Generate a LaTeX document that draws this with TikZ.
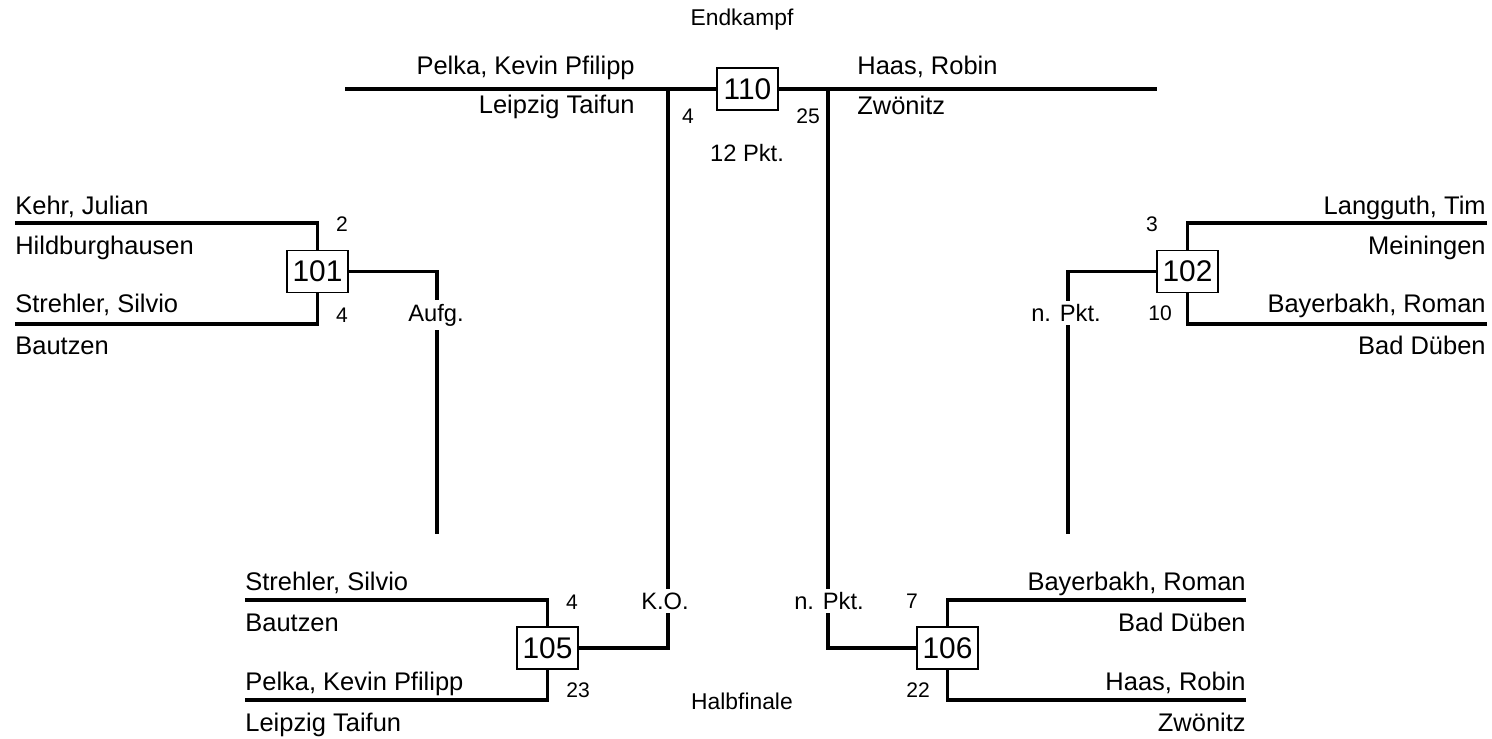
\documentclass[tikz,border=0pt]{standalone}
\usepackage{fontspec}
\setmainfont{Liberation Sans}
\usepackage{tikz}
\usetikzlibrary{positioning}
\usetikzlibrary{calc}

\tikzset{
  match/.style={draw, line width=0.6pt, fill=white, minimum width=1.22cm, minimum height=0.84cm, inner sep=0pt, font=\fontsize{17}{17}\selectfont},
  bline/.style={line width=1.9pt},
  player/.style={inner sep=0pt, font=\fontsize{14.5}{16}\selectfont},
  score/.style={inner sep=0pt, font=\fontsize{12}{12}\selectfont},
  result/.style={fill=white, inner sep=2pt, font=\fontsize{13.5}{14}\selectfont},
  stage/.style={inner sep=0pt, font=\fontsize{13}{14}\selectfont}
}

\begin{document}
\begin{tikzpicture}[x=0.02cm, y=-0.02cm]
\useasboundingbox (0,0) rectangle (1492,739);
\node[match] (m101) at (317.5,271.5) {101};
\node[match] (m102) at (1187.5,271.5) {102};
\node[match] (m105) at (547.5,648) {105};
\node[match] (m106) at (947.5,648) {106};
\node[match] (m110) at (747.5,89) {110};
%%%%%%%%%%%%%%%%%%%%%%%%%%%%%%%%%%%%%
\coordinate (a101) at (15,223);
\coordinate (b101) at (15,324);
\coordinate (w101) at (437,534);
\coordinate (a102) at (1487,223);
\coordinate (b102) at (1487,324);
\coordinate (w102) at (1068,534);
\coordinate (a105) at (245,600);
\coordinate (b105) at (245,700);
\coordinate (a106) at (1246,600);
\coordinate (b106) at (1246,700);
\coordinate (fL) at (345,89);
\coordinate (fR) at (1157,89);
\coordinate (kL) at (668,89);
\coordinate (kR) at (828,89);
%%%%%%%%%%%%%%%%%%%%%%%%%%%%%%%%%%%%%
\draw[bline] (a101) -| (m101.north);
\draw[bline] (b101) -| (m101.south);
\draw[bline] (m101.east) -| (w101);
\draw[bline] (a102) -| (m102.north);
\draw[bline] (b102) -| (m102.south);
\draw[bline] (m102.west) -| (w102);
\draw[bline] (a105) -| (m105.north);
\draw[bline] (b105) -| (m105.south);
\draw[bline] (m105.east) -| (kL);
\draw[bline] (a106) -| (m106.north);
\draw[bline] (b106) -| (m106.south);
\draw[bline] (m106.west) -| (kR);
\draw[bline] (fL) -- (m110.west);
\draw[bline] (m110.east) -- (fR);
%%%%%%%%%%%%%%%%%%%%%%%%%%%%%%%%%%%%%
\node[result] (r101) at (436,315) {Aufg.};
\node[result] (r102) at (1066,313) {n. Pkt.};
\node[result] (r105) at (665,601) {K.O.};
\node[result] (r106) at (829,601) {n. Pkt.};
\node[result, fill=none] (r110) at (747,153) {12 Pkt.};
%%%%%%%%%%%%%%
\node[score] (s101a) at (342,224) {2};
\node[score] (s101b) at (342,315) {4};
\node[score] (s102a) at (1152,224) {3};
\node[score] (s102b) at (1160,313) {10};
\node[score] (s105a) at (572,602) {4};
\node[score] (s105b) at (578,690) {23};
\node[score] (s106a) at (912,601) {7};
\node[score] (s106b) at (918,690) {22};
\node[score] (s110a) at (688,116) {4};
\node[score] (s110b) at (808,116) {25};
%%%%%%%%%%%%%%
\node[stage] (final) at (742,20) {Endkampf};
\node[stage] (semi) at (742,701) {Halbfinale};
%%%%%%%%%%%%%%%%%%%%%%%%%%%%%%%%%%%%%
\node[player, anchor=base west] (p101a) at (15,215) {Kehr, Julian};
\node[player, anchor=base west] (c101a) at (15,255) {Hildburghausen};
\node[player, anchor=base west] (p101b) at (15,313) {Strehler, Silvio};
\node[player, anchor=base west] (c101b) at (15,355) {Bautzen};
\node[player, anchor=base east] (p102a) at (1486,215) {Langguth, Tim};
\node[player, anchor=base east] (c102a) at (1486,255) {Meiningen};
\node[player, anchor=base east] (p102b) at (1486,313) {Bayerbakh, Roman};
\node[player, anchor=base east] (c102b) at (1486,355) {Bad Düben};
\node[player, anchor=base west] (p105a) at (245,591) {Strehler, Silvio};
\node[player, anchor=base west] (c105a) at (245,632) {Bautzen};
\node[player, anchor=base west] (p105b) at (245,691) {Pelka, Kevin Pfilipp};
\node[player, anchor=base west] (c105b) at (245,732) {Leipzig Taifun};
\node[player, anchor=base east] (p106a) at (1246,591) {Bayerbakh, Roman};
\node[player, anchor=base east] (c106a) at (1246,632) {Bad Düben};
\node[player, anchor=base east] (p106b) at (1246,691) {Haas, Robin};
\node[player, anchor=base east] (c106b) at (1246,732) {Zwönitz};
\node[player, anchor=base east] (p110a) at (635,75) {Pelka, Kevin Pfilipp};
\node[player, anchor=base east] (c110a) at (635,114) {Leipzig Taifun};
\node[player, anchor=base west] (p110b) at (857,75) {Haas, Robin};
\node[player, anchor=base west] (c110b) at (857,115) {Zwönitz};
\end{tikzpicture}
\end{document}
